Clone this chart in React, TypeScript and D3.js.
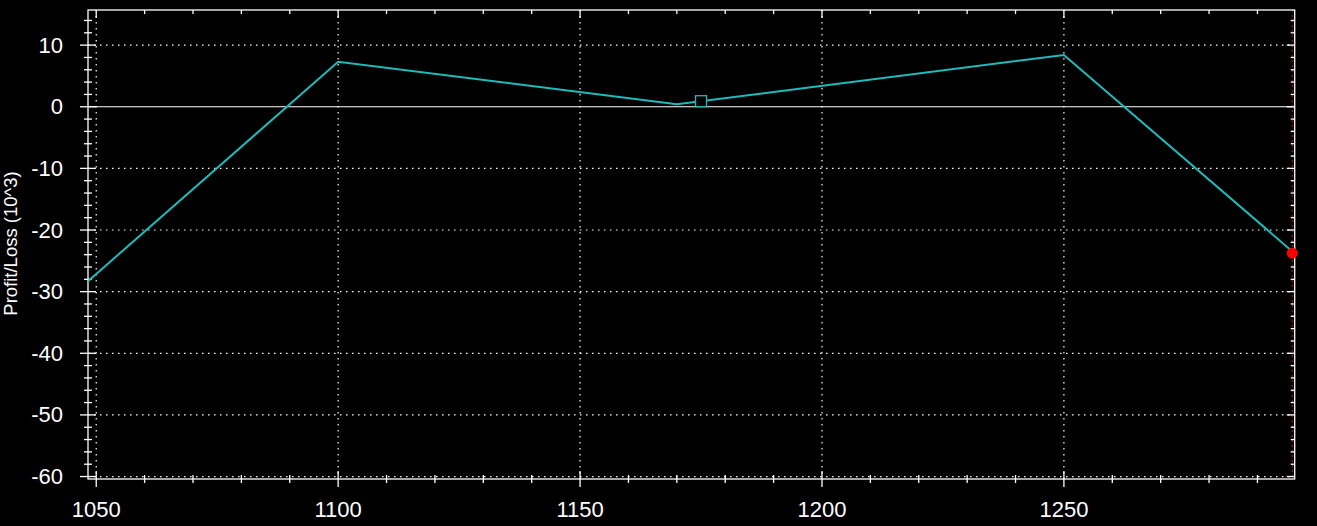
import * as d3 from "d3";

// payoff curve (price, profit/loss in 10^3)
const prices = [1048.3, 1100, 1170, 1250, 1297.7];
const pnl = [-28.3, 7.3, 0.4, 8.4, -23.8];

// markers
const squareMarker = { x: 1175, y: 0.9 };
const currentPrice = { x: 1297.2, y: -23.75 };

const xTicks = [1050, 1100, 1150, 1200, 1250];
const yTicks = [10, 0, -10, -20, -30, -40, -50, -60];
const xMinorTicks = d3.range(1050, 1300, 10);
const yMinorTicks = d3.range(-60, 16, 2);

/** svg dimensions */
const width = 1317;
const height = 526;
const left = 88;
const right = 1294.7;
const top = 10;
const bottom = 479;

const fontFamily = "'Liberation Sans', Arial, sans-serif";

const App = () => {
  const xScale = d3.scaleLinear().domain([1048.3, 1297.7]).range([left, right]);
  const yScale = d3.scaleLinear().domain([-60.4, 15.7]).range([bottom, top]);

  const line = d3
    .line<number>()
    .x((_, i) => xScale(prices[i]))
    .y((d) => yScale(d));

  return (
    <svg
      width={width}
      height={height}
      style={{ position: "absolute", left: 0, top: 0, background: "#000" }}
    >
      <rect x={0} y={0} width={width} height={height} fill="#000" />
      {/* dotted grid */}
      <g stroke="#fff" strokeWidth={1.2} strokeDasharray="1.5 4.5">
        {xTicks.map((t) => (
          <line key={t} x1={xScale(t)} x2={xScale(t)} y1={top} y2={bottom} />
        ))}
        {yTicks
          .filter((t) => t !== 0)
          .map((t) => (
            <line key={t} x1={left} x2={right} y1={yScale(t)} y2={yScale(t)} />
          ))}
      </g>
      {/* zero line */}
      <line x1={left} x2={right} y1={yScale(0)} y2={yScale(0)} stroke="#fff" strokeWidth={1.2} />
      {/* current price marker line */}
      <line
        x1={xScale(currentPrice.x)}
        x2={xScale(currentPrice.x)}
        y1={top}
        y2={bottom}
        stroke="#c21818"
        strokeWidth={1}
        strokeDasharray="2 3"
      />
      {/* frame */}
      <rect
        x={left}
        y={top}
        width={right - left}
        height={bottom - top}
        fill="none"
        stroke="#fff"
        strokeWidth={1.3}
      />
      {/* ticks */}
      <g stroke="#fff" strokeWidth={1.3}>
        {yMinorTicks.map((t) => {
          const major = t % 10 === 0;
          const y = yScale(t);
          return (
            <g key={t}>
              <line x1={major ? left - 8 : left - 4} x2={major ? left + 8 : left + 4} y1={y} y2={y} />
              <line x1={major ? right - 8 : right - 4} x2={right} y1={y} y2={y} />
            </g>
          );
        })}
        {xMinorTicks.map((t) => {
          const major = t % 50 === 0;
          const x = xScale(t);
          return (
            <g key={t}>
              <line x1={x} x2={x} y1={major ? bottom - 8 : bottom - 4} y2={major ? bottom + 8 : bottom + 4} />
              <line x1={x} x2={x} y1={top} y2={major ? top + 8 : top + 4} />
            </g>
          );
        })}
      </g>
      {/* tick labels */}
      <g fill="#fff" fontFamily={fontFamily} fontSize={22}>
        {yTicks.map((t) => (
          <text key={t} x={63} y={yScale(t)} textAnchor="end" dominantBaseline="central">
            {t}
          </text>
        ))}
        {xTicks.map((t) => (
          <text key={t} x={xScale(t)} y={517} textAnchor="middle">
            {t}
          </text>
        ))}
      </g>
      {/* y-axis label */}
      <text
        x={0}
        y={0}
        fill="#fff"
        fontFamily={fontFamily}
        fontSize={18.5}
        textAnchor="middle"
        transform={`translate(16.5, ${(top + bottom) / 2 - 1}) rotate(-90)`}
      >
        Profit/Loss (10^3)
      </text>
      {/* payoff line */}
      <path d={line(pnl) ?? ""} fill="none" stroke="#1fbaba" strokeWidth={2} />
      <rect
        x={xScale(squareMarker.x) - 5.5}
        y={yScale(squareMarker.y) - 5.5}
        width={11}
        height={11}
        fill="#000"
        stroke="#1fbaba"
        strokeWidth={1.3}
      />
      <circle cx={xScale(currentPrice.x)} cy={yScale(currentPrice.y)} r={5.5} fill="#ff0000" />
    </svg>
  );
};

export default App;
